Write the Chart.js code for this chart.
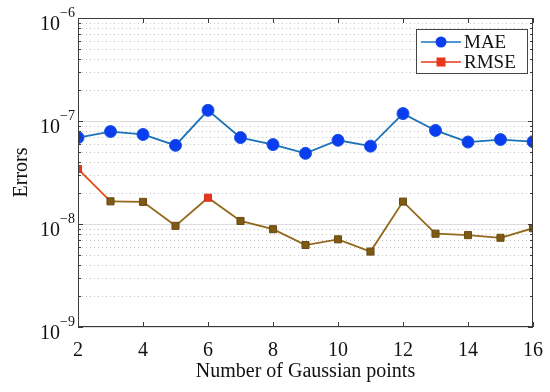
<!DOCTYPE html>
<html>
<head>
<meta charset="utf-8">
<script src="https://cdn.jsdelivr.net/npm/chart.js@4/dist/chart.umd.min.js"></script>
<style>
  html, body { margin: 0; padding: 0; background: #fff; }
  #wrap { width: 550px; height: 392px; }
</style>
</head>
<body>
<div id="wrap"><canvas id="errChart" width="550" height="392"></canvas></div>
<script>
// data
const gaussPoints = [2, 3, 4, 5, 6, 7, 8, 9, 10, 11, 12, 13, 14, 15, 16];
const maeValues = [6.9e-8, 7.9e-8, 7.4e-8, 5.8e-8, 1.27e-7, 6.9e-8, 5.9e-8, 4.85e-8, 6.5e-8, 5.7e-8, 1.18e-7, 8.1e-8, 6.25e-8, 6.6e-8, 6.3e-8];
const rmseValues = [3.42e-8, 1.66e-8, 1.64e-8, 9.6e-9, 1.8e-8, 1.07e-8, 8.9e-9, 6.25e-9, 7.1e-9, 5.4e-9, 1.65e-8, 8.05e-9, 7.8e-9, 7.35e-9, 9.1e-9];
const xTicks = [2, 4, 6, 8, 10, 12, 14, 16];
const yDecades = [-9, -8, -7, -6];
const yMantissas = [2, 3, 4, 5, 6, 7, 8, 9];

const SERIF = '"Liberation Serif", "DejaVu Serif", serif';
const decadeTicks = yDecades.map(e => Math.pow(10, e));
const minorTicks = [];
yDecades.slice(0, -1).forEach(e => yMantissas.forEach(m => minorTicks.push(m * Math.pow(10, e))));

const RED = '#e8371a';
const BROWN = '#7d5a14';

// dotted minor grid, drawn under the lines
const minorGridPlugin = {
  id: 'minorGrid',
  beforeDatasetsDraw(chart) {
    const { ctx, chartArea: a, scales } = chart;
    ctx.save();
    ctx.strokeStyle = '#c2c2c2';
    ctx.lineWidth = 1;
    ctx.setLineDash([1, 3]);
    ctx.beginPath();
    minorTicks.forEach(v => {
      const py = Math.round(scales.y.getPixelForValue(v)) + 0.5;
      ctx.moveTo(a.left, py); ctx.lineTo(a.right, py);
    });
    ctx.stroke();
    ctx.restore();
  }
};

// frame, inward ticks and 10^n labels
const framePlugin = {
  id: 'frame',
  afterDraw(chart) {
    const { ctx, chartArea: a, scales } = chart;
    const x = scales.x, y = scales.y;
    ctx.save();
    ctx.strokeStyle = '#3a3a3a';
    ctx.lineWidth = 1;
    ctx.strokeRect(Math.round(a.left) + 0.5, Math.round(a.top) + 0.5, Math.round(a.right - a.left) - 1, Math.round(a.bottom - a.top) - 1);
    ctx.beginPath();
    xTicks.forEach(v => {
      const px = Math.round(x.getPixelForValue(v)) + 0.5;
      ctx.moveTo(px, a.bottom); ctx.lineTo(px, a.bottom - 5);
      ctx.moveTo(px, a.top); ctx.lineTo(px, a.top + 5);
    });
    decadeTicks.concat(minorTicks).forEach(v => {
      const py = Math.round(y.getPixelForValue(v)) + 0.5;
      const len = decadeTicks.includes(v) ? 5 : 3;
      ctx.moveTo(a.left, py); ctx.lineTo(a.left + len, py);
      ctx.moveTo(a.right, py); ctx.lineTo(a.right - len, py);
    });
    ctx.stroke();

    ctx.fillStyle = '#111';
    ctx.textBaseline = 'alphabetic';
    ctx.textAlign = 'left';
    yDecades.forEach(e => {
      const py = y.getPixelForValue(Math.pow(10, e));
      const exp = '\u2212' + Math.abs(e);
      ctx.font = '14px ' + SERIF;
      const ew = ctx.measureText(exp).width;
      const expX = a.left - 3 - ew;
      ctx.fillText(exp, expX, py - 1);
      ctx.font = '20px ' + SERIF;
      const bw = ctx.measureText('10').width;
      ctx.fillText('10', expX - bw, py + 12);
    });
    ctx.restore();
  }
};

// legend box with line + marker samples
const legendPlugin = {
  id: 'boxLegend',
  afterDraw(chart) {
    const { ctx } = chart;
    const bx = 416, by = 29, bw = 111, bh = 44;
    ctx.save();
    ctx.fillStyle = '#fff';
    ctx.fillRect(bx, by, bw, bh);
    ctx.strokeStyle = '#444';
    ctx.lineWidth = 1;
    ctx.strokeRect(bx + 0.5, by + 0.5, bw, bh);
    const items = [
      { label: chart.data.datasets[0].label, line: '#1a72b8', fill: '#0a3cf0', shape: 'circle', y: by + 13 },
      { label: chart.data.datasets[1].label, line: RED, fill: RED, shape: 'rect', y: by + 33 }
    ];
    items.forEach(it => {
      ctx.strokeStyle = it.line;
      ctx.lineWidth = 1.6;
      ctx.beginPath();
      ctx.moveTo(bx + 5, it.y); ctx.lineTo(bx + 45, it.y);
      ctx.stroke();
      ctx.fillStyle = it.fill;
      ctx.beginPath();
      if (it.shape === 'circle') ctx.arc(bx + 25, it.y, 5.5, 0, Math.PI * 2);
      else ctx.rect(bx + 20.5, it.y - 4.5, 9, 9);
      ctx.fill();
      ctx.fillStyle = '#111';
      ctx.font = '19px ' + SERIF;
      ctx.textAlign = 'left';
      ctx.textBaseline = 'middle';
      ctx.fillText(it.label, bx + 48, it.y + 1);
    });
    ctx.restore();
  }
};

const ctx = document.getElementById('errChart').getContext('2d');
new Chart(ctx, {
  type: 'line',
  data: {
    datasets: [
      {
        label: 'MAE',
        data: gaussPoints.map((x, i) => ({ x, y: maeValues[i] })),
        borderColor: '#1a72b8',
        borderWidth: 1.8,
        pointStyle: 'circle',
        pointRadius: 6,
        pointBackgroundColor: '#0a3cf0',
        pointBorderColor: '#1a55e0',
        pointBorderWidth: 1,
        tension: 0,
      },
      {
        label: 'RMSE',
        data: gaussPoints.map((x, i) => ({ x, y: rmseValues[i] })),
        borderColor: '#94681c',
        borderWidth: 1.8,
        segment: {
          borderColor: c => c.p0DataIndex === 0 ? '#e0501e' : '#94681c',
        },
        pointStyle: 'rect',
        pointRadius: 5,
        pointBackgroundColor: c => (c.dataIndex === 0 || c.dataIndex === 4) ? RED : BROWN,
        pointBorderColor: c => (c.dataIndex === 0 || c.dataIndex === 4) ? '#d8301a' : '#6a4a10',
        pointBorderWidth: 1,
        tension: 0,
      }
    ]
  },
  options: {
    responsive: false,
    animation: false,
    layout: { padding: { top: 18, right: 17, left: 0, bottom: 0 } },
    plugins: {
      legend: { display: false },
      tooltip: { enabled: false },
    },
    scales: {
      x: {
        type: 'linear',
        min: 2,
        max: 16,
        afterFit: s => { s.height = 65; },
        afterBuildTicks: s => { s.ticks = xTicks.map(v => ({ value: v })); },
        grid: { display: false },
        border: { display: false },
        ticks: { color: '#111', font: { family: SERIF, size: 20 }, padding: 4, maxRotation: 0, autoSkip: false },
        title: {
          display: true,
          text: 'Number of Gaussian points',
          color: '#111',
          font: { family: SERIF, size: 20 },
          padding: { top: 0, bottom: 8 },
        },
      },
      y: {
        type: 'logarithmic',
        min: 1e-9,
        max: 1e-6,
        afterFit: s => { s.width = 78; },
        afterBuildTicks: s => { s.ticks = decadeTicks.map(v => ({ value: v })); },
        grid: { color: '#dcdcdc', lineWidth: 1, drawTicks: false },
        border: { display: false },
        ticks: { display: false },
        title: {
          display: true,
          text: 'Errors',
          color: '#111',
          font: { family: SERIF, size: 20 },
          padding: { top: 10, bottom: 0 },
        },
      },
    },
  },
  plugins: [minorGridPlugin, framePlugin, legendPlugin],
});
</script>
</body>
</html>
